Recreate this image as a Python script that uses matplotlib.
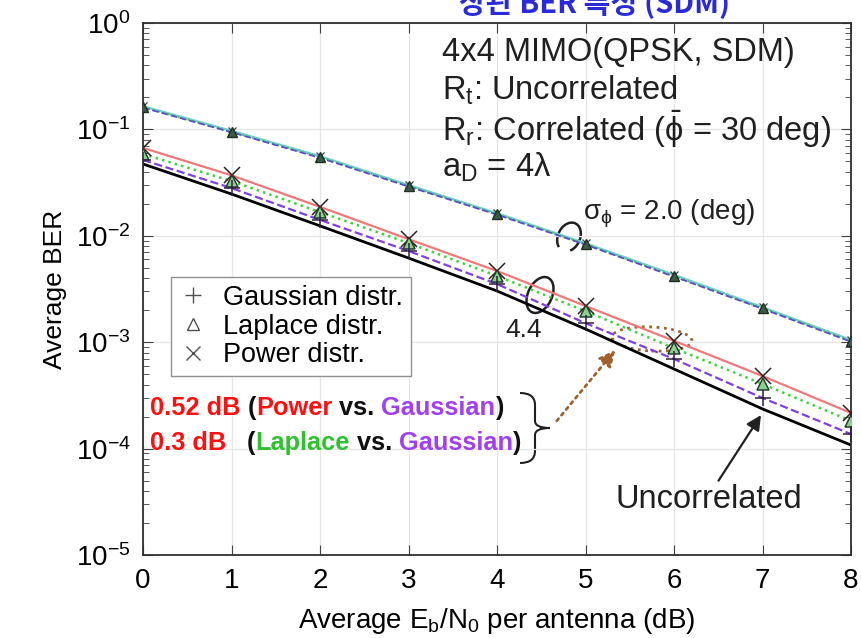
import numpy as np
import matplotlib
matplotlib.use('Agg')
import matplotlib.pyplot as plt
from matplotlib.patches import Arc, Ellipse, PathPatch
from matplotlib.path import Path
from matplotlib.ticker import LogLocator, NullFormatter

plt.rcParams['font.family'] = ['Liberation Sans', 'DejaVu Sans']
plt.rcParams['mathtext.fontset'] = 'custom'
plt.rcParams['mathtext.rm'] = 'Liberation Sans'
plt.rcParams['mathtext.it'] = 'Liberation Sans:italic'
plt.rcParams['mathtext.bf'] = 'Liberation Sans:bold'

# Eb/N0 (dB)
snr = [0, 1, 2, 3, 4, 5, 6, 7, 8]

# sigma_phi = 2.0 deg group
ber_s2_power = [0.165, 0.097, 0.056, 0.030, 0.0163, 0.0085, 0.0043, 0.00213, 0.00105]
ber_s2_laplace = [0.162, 0.095, 0.055, 0.0294, 0.0160, 0.00837, 0.00419, 0.00209, 0.00103]
ber_s2_gauss = [0.160, 0.094, 0.054, 0.0290, 0.0158, 0.00825, 0.00413, 0.00206, 0.00101]

# sigma_phi = 4.4 deg group
ber_power = [0.067, 0.037, 0.0187, 0.0093, 0.00467, 0.00219, 0.00103, 4.81e-4, 2.16e-4]
ber_laplace = [0.0587, 0.0327, 0.0167, 0.00855, 0.00419, 0.00196, 8.8e-4, 4.05e-4, 1.82e-4]
ber_gauss = [0.0516, 0.0281, 0.0141, 0.0072, 0.00352, 0.00151, 6.95e-4, 2.99e-4, 1.37e-4]
ber_uncorr = [0.0473, 0.0247, 0.0124, 0.00618, 0.00303, 0.00133, 5.6e-4, 2.36e-4, 1.08e-4]

legend_labels = ['Gaussian distr.', 'Laplace distr.', 'Power distr.']

W, H = 861, 638
fig = plt.figure(figsize=(W / 100, H / 100), dpi=100)
ax = fig.add_axes([143 / W, 1 - 555 / H, 708 / W, 532 / H])


def px(x, y):
    # reference pixel (top-left origin) -> inches for fig.dpi_scale_trans
    return (x / 100, (H - y) / 100)


# upper group
ax.plot(snr, ber_s2_power, '-', color='#70d0d0', lw=1.6, zorder=2)
ax.plot(snr, ber_s2_laplace, ':', color='#50c060', lw=1.4, zorder=3)
ax.plot(snr, ber_s2_gauss, '--', color='#5a4fc0', lw=1.3, zorder=4)
ax.plot(snr, ber_s2_power, 'x', color='#404040', ms=6, mew=0.9, zorder=5)
ax.plot(snr, ber_s2_gauss, '+', color='#404040', ms=6, mew=0.9, zorder=5)
ax.plot(snr, ber_s2_laplace, '^', mfc='#3a5a4a', mec='#203020', ms=6.5, mew=1.0, zorder=6)

# lower group
ax.plot(snr, ber_uncorr, '-', color='black', lw=2.0, zorder=2)
ax.plot(snr, ber_power, '-', color='#f07878', lw=1.6, zorder=2)
ax.plot(snr, ber_laplace, ':', color='#40d040', lw=1.8, zorder=3)
ax.plot(snr, ber_gauss, '--', color='#8040e0', lw=1.6, zorder=3)
ax.plot(snr, ber_power, 'x', color='#302020', ms=11, mew=1.1, zorder=5)
ax.plot(snr, ber_laplace, '^', mfc='#8fd08f', mec='#204030', ms=9, mew=1.1, zorder=5)
ax.plot(snr, ber_gauss, '+', color='#302040', ms=11, mew=1.1, zorder=5)

ax.set_yscale('log')
ax.set_xlim(0, 8)
ax.set_ylim(1e-5, 1)
ax.set_xticks(snr)
ax.yaxis.set_major_locator(LogLocator(base=10, numticks=10))
ax.yaxis.set_minor_locator(LogLocator(base=10, subs=np.arange(2, 10), numticks=100))
ax.yaxis.set_minor_formatter(NullFormatter())
ax.grid(True, which='major', color='#e6e6e6', lw=0.9)
ax.tick_params(which='both', direction='in', top=True, right=True, labelsize=20,
               color='#404040')
ax.tick_params(which='major', length=7, pad=9)
ax.tick_params(which='minor', length=4)
for s in ax.spines.values():
    s.set_color('#303030')
    s.set_linewidth(1.3)

ax.set_xlabel(r'Average E$_\mathrm{b}$/N$_\mathrm{0}$ per antenna (dB)', fontsize=20, labelpad=9)
ax.set_ylabel('Average BER', fontsize=19, labelpad=6)

# legend (markers only)
h1, = ax.plot([], [], '+', color='#505050', ms=11, mew=1.0)
h2, = ax.plot([], [], '^', mfc='none', mec='#505050', ms=9, mew=1.0)
h3, = ax.plot([], [], 'x', color='#505050', ms=10, mew=1.0)
leg = ax.legend([h1, h2, h3], legend_labels, loc='upper left',
                bbox_to_anchor=(0.040, 0.523), fontsize=19.5, frameon=True,
                fancybox=False, edgecolor='#909090', framealpha=1,
                handlelength=1.0, handletextpad=0.6, borderpad=0.3,
                labelspacing=0.1, borderaxespad=0)
leg.get_frame().set_linewidth(1.0)

# info text block
tr = fig.dpi_scale_trans
info = ['4x4 MIMO(QPSK, SDM)',
        r'R$_\mathrm{t}$: Uncorrelated',
        r'R$_\mathrm{r}$: Correlated ($\bar{\mathrm{ϕ}}$ = 30 deg)',
        r'a$_\mathrm{D}$ = 4λ']
for i, line in enumerate(info):
    fig.text(442 / W, 1 - (52 + 38.5 * i) / H, line, fontsize=23.5, va='center',
             ha='left', color='#202020')

fig.text(583 / W, 1 - 214 / H, r'σ$_\mathrm{ϕ}$ = 2.0 (deg)', fontsize=20,
         va='center', color='#202020')
fig.text(505 / W, 1 - 330 / H, '4.4', fontsize=19, va='center', color='#202020')
fig.text(615 / W, 1 - 500 / H, 'Uncorrelated', fontsize=23.5, va='center',
         color='#202020')

# loops around curve groups
ax.add_patch(Arc(px(569, 237), 0.22, 0.30, angle=-25, theta1=-60, theta2=250,
                 transform=tr, color='#202020', lw=1.8, clip_on=False))
ax.add_patch(Arc(px(540, 295), 0.24, 0.38, angle=-25, theta1=0, theta2=360,
                 transform=tr, color='#202020', lw=1.8, clip_on=False))
ax.add_patch(Ellipse(px(652, 339), 0.80, 0.24, angle=-3, transform=tr,
                     fill=False, edgecolor='#a0622d', lw=2, ls=':',
                     clip_on=False))

# arrows
ax.annotate('', xy=(7, ber_uncorr[7] * 0.92), xycoords='data',
            xytext=px(717, 483), textcoords=tr,
            arrowprops=dict(arrowstyle='-|>', color='#202020', lw=1.6,
                            mutation_scale=22))
ax.annotate('', xy=px(617, 348), xycoords=tr, xytext=px(555, 423),
            textcoords=tr,
            arrowprops=dict(arrowstyle='-|>', color='#a0622d', lw=2, ls=':',
                            mutation_scale=24))

# right brace
x0, w, yt, yb = 520, 30, 393, 463
ym = (yt + yb) / 2
xm = x0 + w / 2
verts = [(x0, yt), (xm, yt), (xm, yt + 12), (xm, ym - 7), (xm, ym), (x0 + w, ym),
         (xm, ym), (xm, ym + 7), (xm, yb - 12), (xm, yb), (x0, yb)]
codes = [Path.MOVETO, Path.CURVE3, Path.CURVE3, Path.LINETO, Path.CURVE3,
         Path.CURVE3, Path.CURVE3, Path.CURVE3, Path.LINETO, Path.CURVE3,
         Path.CURVE3]
verts = [px(x, y) for x, y in verts]
ax.add_patch(PathPatch(Path(verts, codes), transform=tr, fill=False,
                       edgecolor='#202020', lw=1.5, clip_on=False))

# coloured comparison text
RED, PUR, GRN, BLK = '#ff1010', '#a040f0', '#30c030', '#101010'
lines = [
    [('0.52 dB ', RED), ('(', BLK), ('Power', RED), (' vs. ', BLK),
     ('Gaussian', PUR), (')', BLK)],
    [('0.3 dB   ', RED), ('(', BLK), ('Laplace', GRN), (' vs. ', BLK),
     ('Gaussian', PUR), (')', BLK)],
]
for j, parts in enumerate(lines):
    prev = None
    for k, (s, c) in enumerate(parts):
        if prev is None:
            prev = fig.text(150 / W, 1 - (408 + 35 * j) / H, s, color=c,
                            fontsize=18.3, fontweight='bold', va='center')
        else:
            prev = ax.annotate(s, xy=(1, 0), xycoords=prev, va='bottom',
                               ha='left', color=c, fontsize=18.3,
                               fontweight='bold', annotation_clip=False)

# title of the slide, cut off by the top edge as in the reference
fig.text(730 / W, 1 - 19 / H, '상관 BER 특성 (SDM)', ha='right',
         va='bottom', fontsize=21, fontweight='bold', color='#2a2ad8',
         family=['Noto Sans CJK KR', 'DejaVu Sans'])

fig.savefig('out.png', dpi=100)
